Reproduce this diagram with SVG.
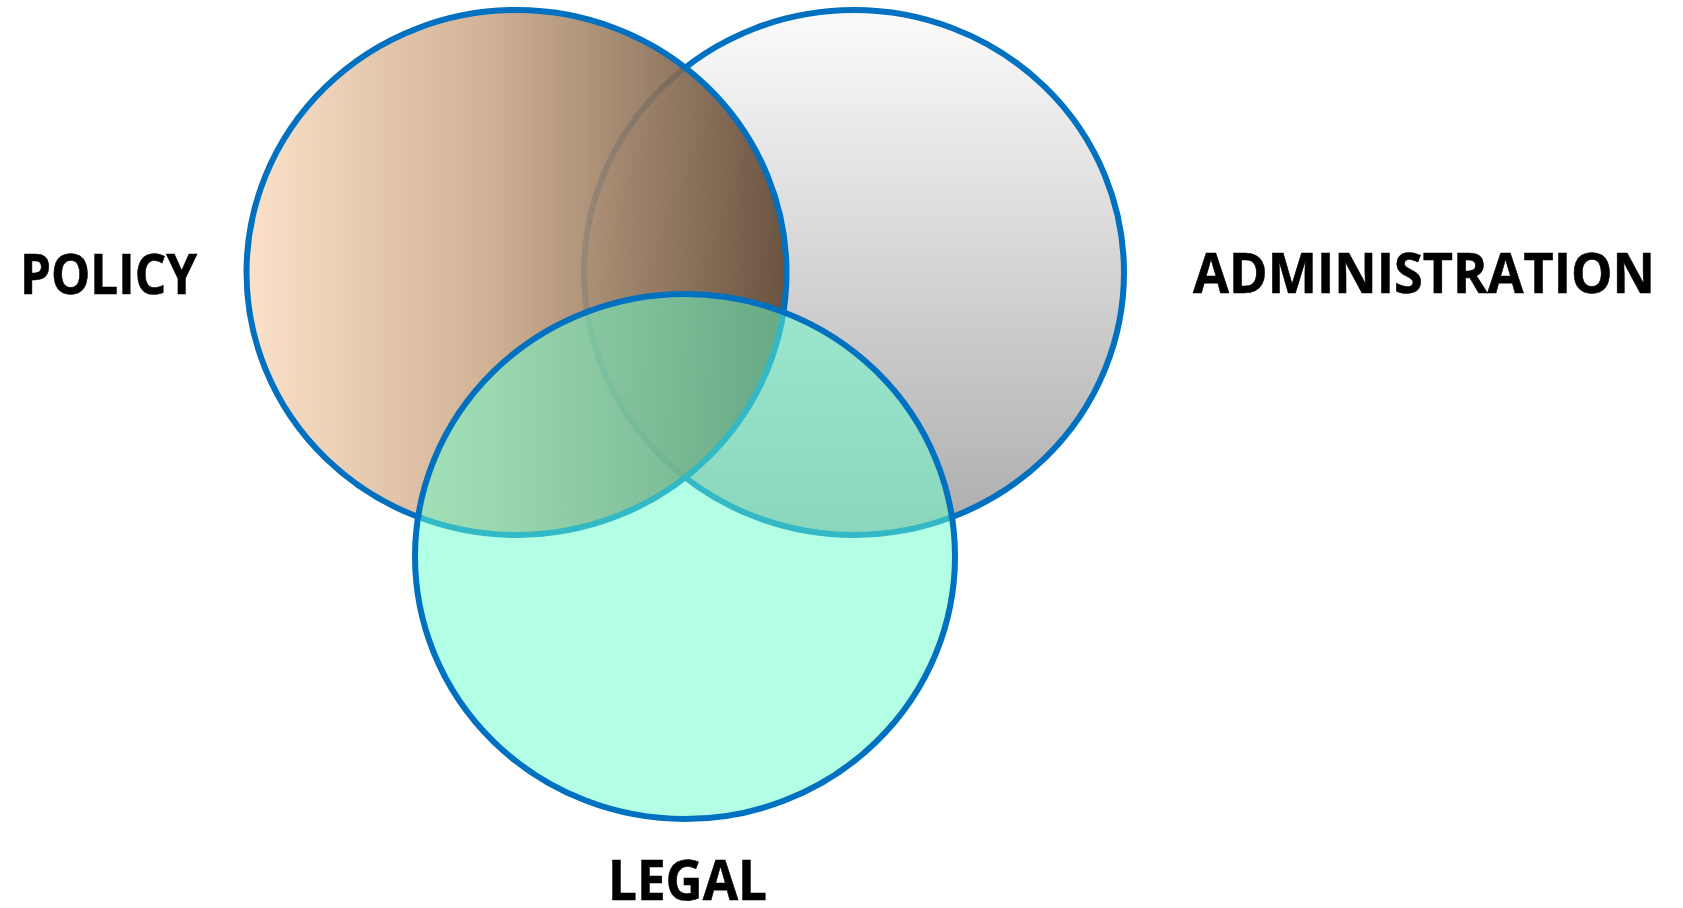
<svg xmlns="http://www.w3.org/2000/svg" width="1683" height="908" viewBox="0 0 1683 908">
<defs>
<linearGradient id="gPolicy" x1="0" y1="0" x2="1" y2="0">
<stop offset="0" stop-color="#FBDEC4"/>
<stop offset="0.45" stop-color="#CBA98A"/>
<stop offset="1" stop-color="#5E4530"/>
</linearGradient>
<linearGradient id="gAdmin" x1="0" y1="0" x2="0" y2="1">
<stop offset="0" stop-color="#FBFBFB"/>
<stop offset="1" stop-color="#ADADAD"/>
</linearGradient>
<style>
.ring{stroke:#0070C0;stroke-width:6}
.lbl{font-family:"Open Sans","Liberation Sans",sans-serif;font-weight:700;font-size:55px;fill:#000;stroke:#000;stroke-width:0.6}
</style>
</defs>
<rect width="1683" height="908" fill="#FFFFFF"/>
<g id="node-administration">
<ellipse class="ring" cx="854" cy="272.5" rx="270" ry="262.5" fill="url(#gAdmin)"/>
</g>
<g id="node-policy">
<ellipse class="ring" cx="516.5" cy="272.5" rx="270" ry="262.5" fill="url(#gPolicy)" fill-opacity="0.9"/>
</g>
<g id="node-legal">
<ellipse class="ring" cx="685" cy="556.5" rx="270" ry="262.5" fill="#66FFCC" fill-opacity="0.5"/>
</g>
<g id="connectors"></g>
<g id="labels">
<text class="lbl" x="20" y="294" textLength="177" lengthAdjust="spacingAndGlyphs">POLICY</text>
<text class="lbl" x="1193" y="293" textLength="462" lengthAdjust="spacingAndGlyphs">ADMINISTRATION</text>
<text class="lbl" x="608" y="900" textLength="159" lengthAdjust="spacingAndGlyphs">LEGAL</text>
</g>
</svg>
